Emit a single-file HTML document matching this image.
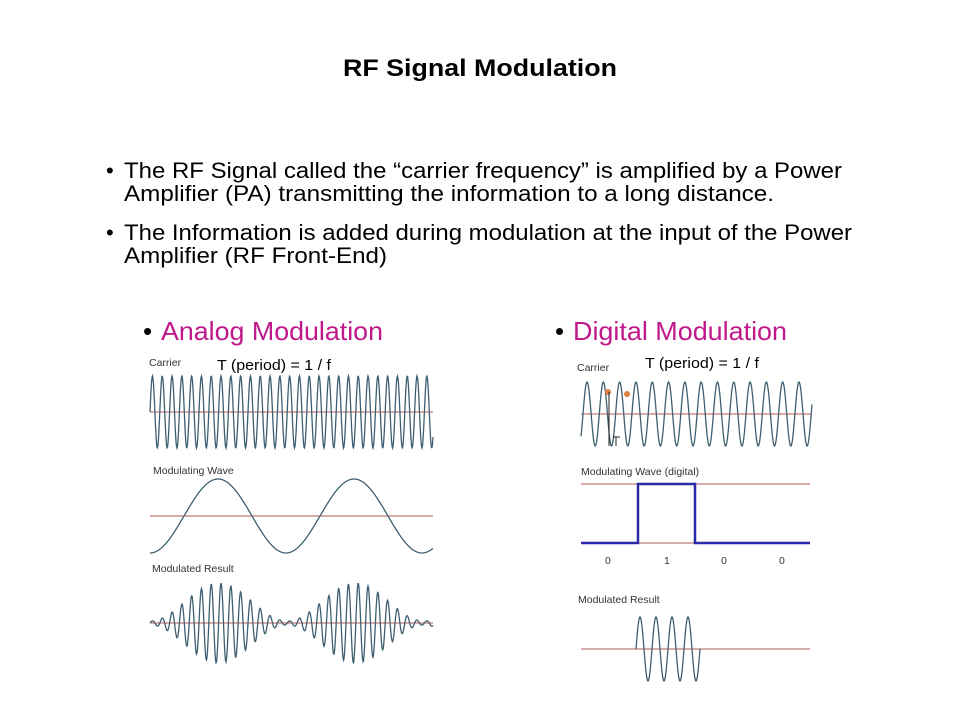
<!DOCTYPE html>
<html><head><meta charset="utf-8"><style>
body{margin:0;width:960px;height:720px;background:#fff;overflow:hidden;font-family:"Liberation Sans",sans-serif;}
svg{position:absolute;left:0;top:0}
</style></head><body>
<svg id="s" width="960" height="720" xmlns="http://www.w3.org/2000/svg" font-family="Liberation Sans, sans-serif">
<text x="343" y="76" font-size="24" font-weight="bold" textLength="274" lengthAdjust="spacingAndGlyphs">RF Signal Modulation</text>
<g font-size="22" fill="#000">
<text x="106" y="178">•</text><text x="124" y="178" textLength="718" lengthAdjust="spacingAndGlyphs">The RF Signal called the “carrier frequency” is amplified by a Power</text>
<text x="124" y="201" textLength="650" lengthAdjust="spacingAndGlyphs">Amplifier (PA) transmitting the information to a long distance.</text>
<text x="106" y="240">•</text><text x="124" y="240" textLength="728" lengthAdjust="spacingAndGlyphs">The Information is added during modulation at the input of the Power</text>
<text x="124" y="263" textLength="263" lengthAdjust="spacingAndGlyphs">Amplifier (RF Front-End)</text>
</g>
<g font-size="26">
<text x="143" y="340">•</text><text x="161" y="340" fill="#c0188a" textLength="222" lengthAdjust="spacingAndGlyphs">Analog Modulation</text>
<text x="555" y="340">•</text><text x="573" y="340" fill="#c0188a" textLength="214" lengthAdjust="spacingAndGlyphs">Digital Modulation</text>
</g>
<g font-size="15"><text x="217" y="370" textLength="114" lengthAdjust="spacingAndGlyphs">T (period) = 1 / f</text><text x="645" y="368" textLength="114" lengthAdjust="spacingAndGlyphs">T (period) = 1 / f</text></g>
<g font-size="10.5" fill="#333">
<text x="149" y="366">Carrier</text><text x="153" y="474">Modulating Wave</text><text x="152" y="572">Modulated Result</text>
<text x="577" y="371">Carrier</text><text x="581" y="475">Modulating Wave (digital)</text><text x="578" y="603">Modulated Result</text>
<text x="605" y="564">0</text><text x="664" y="564">1</text><text x="721" y="564">0</text><text x="779" y="564">0</text>
</g>
<g stroke="#b05858" stroke-width="1">
<line x1="150" y1="412" x2="433" y2="412"/><line x1="150" y1="516" x2="433" y2="516"/><line x1="150" y1="623" x2="433" y2="623"/>
<line x1="581" y1="414" x2="812" y2="414"/><line x1="581" y1="484" x2="810" y2="484"/><line x1="581" y1="543" x2="810" y2="543"/><line x1="581" y1="649" x2="810" y2="649"/>
</g>
<path d="M581 543H638V484H695V543H810" fill="none" stroke="#2a2aa8" stroke-width="2.5"/>
<g id="w" fill="none" stroke="#3f5f70" stroke-width="1.3"></g>
<circle cx="608" cy="392" r="3" fill="#e08040"/><circle cx="627" cy="394" r="3" fill="#e08040"/>
<path d="M609 392V446M613 437H620M616 437V446" stroke="#222" stroke-width="1"/>
</svg>
<script>
var g=document.getElementById('w');
function add(f,x0,x1){var d='';for(var x=x0;x<=x1;x+=0.5){d+=(x==x0?'M':'L')+x.toFixed(1)+' '+f(x).toFixed(2);}var p=document.createElementNS('http://www.w3.org/2000/svg','path');p.setAttribute('d',d);g.appendChild(p);}
var P=2*Math.PI;
add(function(x){return 412-36*Math.sin(P*(x-150)/9.8);},150,433);
add(function(x){return 516+37*Math.cos(P*(x-150)/136);},150,433);
add(function(x){var e=2+38*(0.5-0.5*Math.cos(P*(x-150)/137));return 623-e*Math.sin(P*(x-150)/9.8);},150,433);
add(function(x){return 414-32*Math.sin(P*(x-583)/16.3);},581,812);
add(function(x){return 649-32*Math.sin(P*(x-636)/16);},636,700);
</script>
</body></html>
